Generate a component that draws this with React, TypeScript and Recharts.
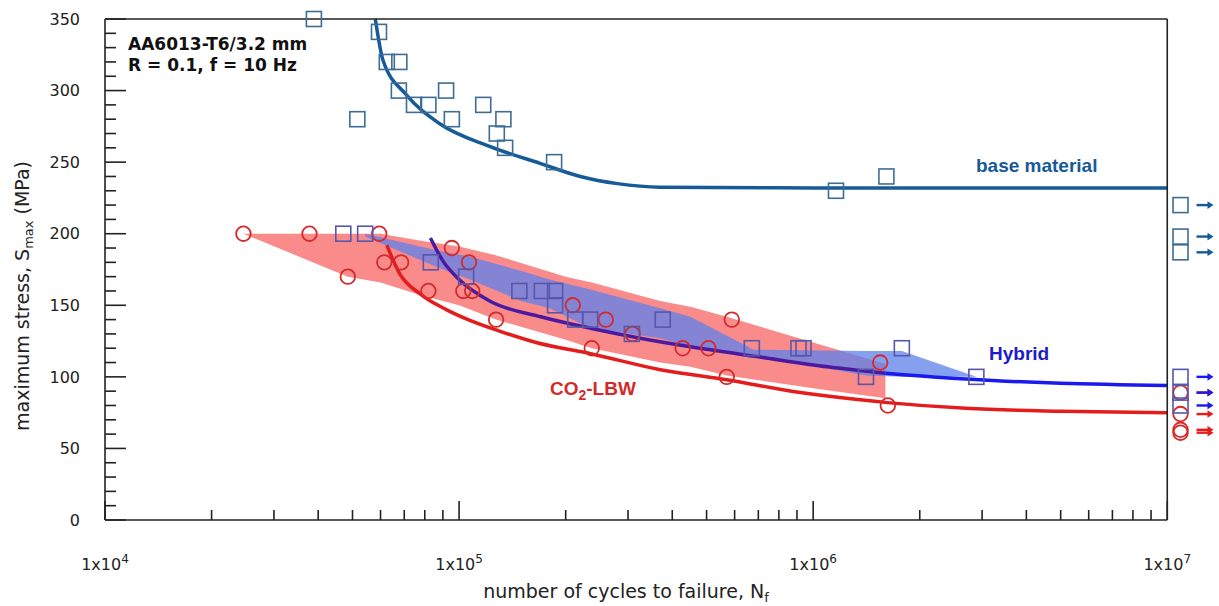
import React from 'react';
import { ComposedChart, XAxis, YAxis, Line, Area, Scatter, ReferenceLine, Customized } from 'recharts';

// ---------- axis ticks ----------
const xMajorTicks = [1e4, 1e5, 1e6, 1e7];
const xTickBase = ['1x10', '1x10', '1x10', '1x10'];
const xTickExp = ['4', '5', '6', '7'];
const xAllTicks = [
  1e4, 2e4, 3e4, 4e4, 5e4, 6e4, 7e4, 8e4, 9e4,
  1e5, 2e5, 3e5, 4e5, 5e5, 6e5, 7e5, 8e5, 9e5,
  1e6, 2e6, 3e6, 4e6, 5e6, 6e6, 7e6, 8e6, 9e6,
  1e7,
];
const yMajorTicks = [0, 50, 100, 150, 200, 250, 300, 350];
const yAllTicks = [
  0, 10, 20, 30, 40, 50, 60, 70, 80, 90, 100, 110, 120, 130, 140, 150, 160, 170, 180,
  190, 200, 210, 220, 230, 240, 250, 260, 270, 280, 290, 300, 310, 320, 330, 340, 350,
];

// ---------- test data ----------
const baseN = [3.89e4, 5.94e4, 6.25e4, 6.78e4, 5.16e4, 6.76e4, 7.46e4, 8.19e4, 9.19e4, 9.54e4, 1.17e5, 1.334e5, 1.278e5, 1.349e5, 1.855e5, 1.16e6, 1.61e6];
const baseS = [350, 341, 320, 320, 280, 300, 290, 290, 300, 280, 290, 280, 270, 260, 250, 230, 240];

const co2N = [2.46e4, 3.78e4, 4.85e4, 5.95e4, 6.15e4, 6.86e4, 8.19e4, 9.54e4, 1.028e5, 1.067e5, 1.089e5, 1.272e5, 2.095e5, 2.37e5, 2.596e5, 3.09e5, 4.28e5, 5.06e5, 5.89e5, 5.7e5, 1.546e6, 1.625e6];
const co2S = [200, 200, 170, 200, 180, 180, 160, 190, 160, 180, 160, 140, 150, 120, 140, 130, 120, 120, 140, 100, 110, 80];

const hybN = [4.71e4, 5.43e4, 8.32e4, 1.047e5, 1.48e5, 1.713e5, 1.867e5, 1.867e5, 2.128e5, 2.345e5, 3.076e5, 3.76e5, 6.71e5, 9.09e5, 9.39e5, 1.41e6, 1.78e6, 2.89e6];
const hybS = [200, 200, 180, 170, 160, 160, 160, 150, 140, 140, 130, 140, 120, 120, 120, 100, 120, 100];

// run-outs (no failure at 1x10^7 cycles)
const runoutN = 1.09e7;
const baseRunoutS = [220, 198, 187];
const co2RunoutS = [89, 74, 63, 61];
const hybRunoutS = [100, 89, 80];

// ---------- fitted curves ----------
const baseFitN = [5.8e4, 6.1e4, 7.1e4, 8.8e4, 1.22e5, 1.7e5, 2.2e5, 2.8e5, 3.7e5, 1e6, 1e7];
const baseFitS = [350, 321, 297, 277, 261, 249, 240, 235, 232.5, 232, 232];

const co2FitN = [6.25e4, 6.8e4, 7.76e4, 9.2e4, 1.06e5, 1.3e5, 1.65e5, 2.37e5, 3.7e5, 5.7e5, 9.2e5, 1.62e6, 2.7e6, 5e6, 1e7];
const co2FitS = [192, 172, 158, 147, 140, 132, 124, 116, 105, 98, 89, 82, 78, 76, 75];

const hybFitInN = [8.3e4, 9.0e4, 1.0e5, 1.22e5, 1.7e5, 2.35e5, 3.25e5, 4.5e5, 7.0e5, 1.1e6, 1.6e6];
const hybFitInS = [197, 181, 168, 153, 142, 134, 127, 121, 114, 107, 102.5];
const hybFitOutN = [1.6e6, 2.3e6, 3.5e6, 5e6, 1e7];
const hybFitOutS = [102.5, 99.5, 97, 95.5, 94];

// ---------- scatter bands ----------
const co2BandN = [2.46e4, 4.85e4, 6.0e4, 7.8e4, 1.0e5, 1.27e5, 2.0e5, 2.37e5, 3.7e5, 4.5e5, 5.7e5, 1.0e6, 1.6e6];
const co2BandLow = [200, 170, 166, 157, 150, 140, 126, 120, 110, 107, 101, 92, 85];
const co2BandHigh = [200, 200, 200, 195, 191, 185, 170, 166, 153, 149, 142, 124, 109];

const hybBandN = [5.43e4, 8.8e4, 1.07e5, 1.5e5, 1.8e5, 2.35e5, 3.7e5, 4.5e5, 6.8e5, 1.41e6, 1.78e6, 2.89e6];
const hybBandLow = [198, 176, 168, 153, 148, 134, 127, 121, 115, 101, 100, 100];
const hybBandHigh = [200, 188, 184, 174, 168, 161, 148, 142, 119, 118, 118, 100];

// ---------- build tables ----------
const pts = (ns: number[], ss: number[]) => ns.map((n, i) => ({ n, s: ss[i] }));
const runs = (ss: number[]) => ss.map((s) => ({ n: runoutN, s }));
const band = (ns: number[], lo: number[], hi: number[]) => ns.map((n, i) => ({ n, range: [lo[i], hi[i]] }));

const baseData = pts(baseN, baseS);
const co2Data = pts(co2N, co2S);
const hybData = pts(hybN, hybS);
const baseFit = pts(baseFitN, baseFitS);
const co2Fit = pts(co2FitN, co2FitS);
const hybFitIn = pts(hybFitInN, hybFitInS);
const hybFitOut = pts(hybFitOutN, hybFitOutS);
const co2Band = band(co2BandN, co2BandLow, co2BandHigh);
const hybBand = band(hybBandN, hybBandLow, hybBandHigh);

// ---------- colours ----------
const C_BASE_PT = '#3d6d94';
const C_BASE_LINE = '#175a98';
const C_CO2 = '#d42a2a';
const C_CO2_LINE = '#e41c1c';
const C_HYB_PT = '#5757ab';
const C_HYB_IN = '#4a1aa0';
const C_HYB_OUT = '#1a1aee';
const AXIS = '#222';

const FONT = '"DejaVu Sans", sans-serif';
const LABEL_FONT = '"Liberation Sans", Arial, sans-serif';

const squareShape = (color: string) => (p: any) => (
  <rect x={p.cx - 7.5} y={p.cy - 7.5} width={15} height={15} fill="none" stroke={color} strokeWidth={1.6} />
);
const circleShape = (color: string) => (p: any) => (
  <circle cx={p.cx} cy={p.cy} r={7.3} fill="none" stroke={color} strokeWidth={1.8} />
);
const arrow = (cx: number, cy: number, color: string) => (
  <g>
    <line x1={cx + 16} y1={cy} x2={cx + 28} y2={cy} stroke={color} strokeWidth={2.4} />
    <polygon points={`${cx + 27},${cy - 3.8} ${cx + 33},${cy} ${cx + 27},${cy + 3.8}`} fill={color} />
  </g>
);
const runSquare = (color: string, arrowColor: string) => (p: any) => (
  <g>
    {squareShape(color)(p)}
    {arrow(p.cx, p.cy, arrowColor)}
  </g>
);
const runCircle = (color: string, arrowColor: string) => (p: any) => (
  <g>
    {circleShape(color)(p)}
    {arrow(p.cx, p.cy, arrowColor)}
  </g>
);

const XTick = (props: any) => {
  const { x, y, payload } = props;
  const idx = xMajorTicks.indexOf(payload.value);
  if (idx < 0) {
    return <line x1={x} x2={x} y1={y} y2={y - 10} stroke={AXIS} strokeWidth={1.6} />;
  }
  return (
    <g>
      <line x1={x} x2={x} y1={y} y2={y - 19} stroke={AXIS} strokeWidth={1.6} />
      <text x={x} y={y + 50} textAnchor="middle" fontFamily={FONT} fontSize={16} fill="#222">
        {xTickBase[idx]}
        <tspan dy={-7} fontSize={12}>{xTickExp[idx]}</tspan>
      </text>
    </g>
  );
};

const YTick = (props: any) => {
  const { x, y, payload } = props;
  const major = yMajorTicks.includes(payload.value);
  return (
    <g>
      <line x1={x} x2={x + (major ? 21 : 11)} y1={y} y2={y} stroke={AXIS} strokeWidth={1.6} />
      {major && (
        <text x={x - 25} y={y} dy="0.36em" textAnchor="end" fontFamily={FONT} fontSize={16} fill="#222">
          {payload.value}
        </text>
      )}
    </g>
  );
};

const Annotations = () => (
  <g>
    <text x={128} y={50} fontFamily={FONT} fontWeight="bold" fontSize={17} fill="#111">AA6013-T6/3.2 mm</text>
    <text x={128} y={71} fontFamily={FONT} fontWeight="bold" fontSize={17} fill="#111">R = 0.1, f = 10 Hz</text>
    <text x={976} y={172} fontFamily={LABEL_FONT} fontWeight="bold" fontSize={19} fill={C_BASE_LINE}>base material</text>
    <text x={989} y={360} fontFamily={LABEL_FONT} fontWeight="bold" fontSize={19} fill="#1c1cc8">Hybrid</text>
    <text x={550} y={395} fontFamily={LABEL_FONT} fontWeight="bold" fontSize={19} fill={C_CO2}>
      CO<tspan dy={5} fontSize={14}>2</tspan><tspan dy={-5}>-LBW</tspan>
    </text>
    <text x={626} y={598} textAnchor="middle" fontFamily={FONT} fontSize={19} fill="#222">
      number of cycles to failure, N<tspan dy={4} fontSize={13}>f</tspan>
    </text>
    <text transform="translate(29,296) rotate(-90)" textAnchor="middle" fontFamily={FONT} fontSize={19} fill="#222">
      maximum stress, S<tspan dy={4} fontSize={13}>max</tspan><tspan dy={-4}> (MPa)</tspan>
    </text>
  </g>
);

export default function App() {
  return (
    <div style={{ position: 'absolute', left: 0, top: 0, width: 1219, height: 606, background: '#fff' }}>
      <ComposedChart width={1219} height={606} margin={{ top: 19, right: 0, bottom: 0, left: 0 }}>
        <XAxis
          type="number"
          dataKey="n"
          scale="log"
          domain={[1e4, 1.4e7]}
          ticks={xAllTicks}
          interval={0}
          height={86}
          axisLine={false}
          tickLine={false}
          tickSize={0}
          tickMargin={0}
          tick={<XTick />}
        />
        <YAxis
          type="number"
          dataKey="s"
          domain={[0, 350]}
          ticks={yAllTicks}
          interval={0}
          width={105}
          axisLine={{ stroke: AXIS, strokeWidth: 1.6 }}
          tickLine={false}
          tickSize={0}
          tickMargin={0}
          tick={<YTick />}
        />

        <Area data={co2Band} dataKey="range" type="linear" stroke="none" fill="#f98b8b" fillOpacity={1} isAnimationActive={false} />
        <Area data={hybBand} dataKey="range" type="linear" stroke="none" fill="rgb(93,128,235)" fillOpacity={0.75} isAnimationActive={false} />

        <Line data={baseFit} dataKey="s" type="monotone" stroke={C_BASE_LINE} strokeWidth={3.5} dot={false} isAnimationActive={false} />
        <Line data={co2Fit} dataKey="s" type="monotone" stroke={C_CO2_LINE} strokeWidth={3.5} dot={false} isAnimationActive={false} />
        <Line data={hybFitIn} dataKey="s" type="monotone" stroke={C_HYB_IN} strokeWidth={3.5} dot={false} isAnimationActive={false} />
        <Line data={hybFitOut} dataKey="s" type="monotone" stroke={C_HYB_OUT} strokeWidth={3.5} dot={false} isAnimationActive={false} />

        <ReferenceLine segment={[{ x: 1e4, y: 350 }, { x: 1e7, y: 350 }]} stroke={AXIS} strokeWidth={1.6} />
        <ReferenceLine segment={[{ x: 1e7, y: 0 }, { x: 1e7, y: 350 }]} stroke={AXIS} strokeWidth={1.6} />
        <ReferenceLine segment={[{ x: 1e4, y: 0 }, { x: 1e7, y: 0 }]} stroke={AXIS} strokeWidth={1.6} />

        <Scatter data={baseData} shape={squareShape(C_BASE_PT)} isAnimationActive={false} />
        <Scatter data={co2Data} shape={circleShape(C_CO2)} isAnimationActive={false} />
        <Scatter data={hybData} shape={squareShape(C_HYB_PT)} isAnimationActive={false} />
        <Scatter data={runs(baseRunoutS)} shape={runSquare(C_BASE_PT, C_BASE_LINE)} isAnimationActive={false} />
        <Scatter data={runs(co2RunoutS)} shape={runCircle(C_CO2, C_CO2_LINE)} isAnimationActive={false} />
        <Scatter data={runs(hybRunoutS)} shape={runSquare(C_HYB_PT, C_HYB_OUT)} isAnimationActive={false} />

        <Customized component={<Annotations />} />
      </ComposedChart>
    </div>
  );
}
